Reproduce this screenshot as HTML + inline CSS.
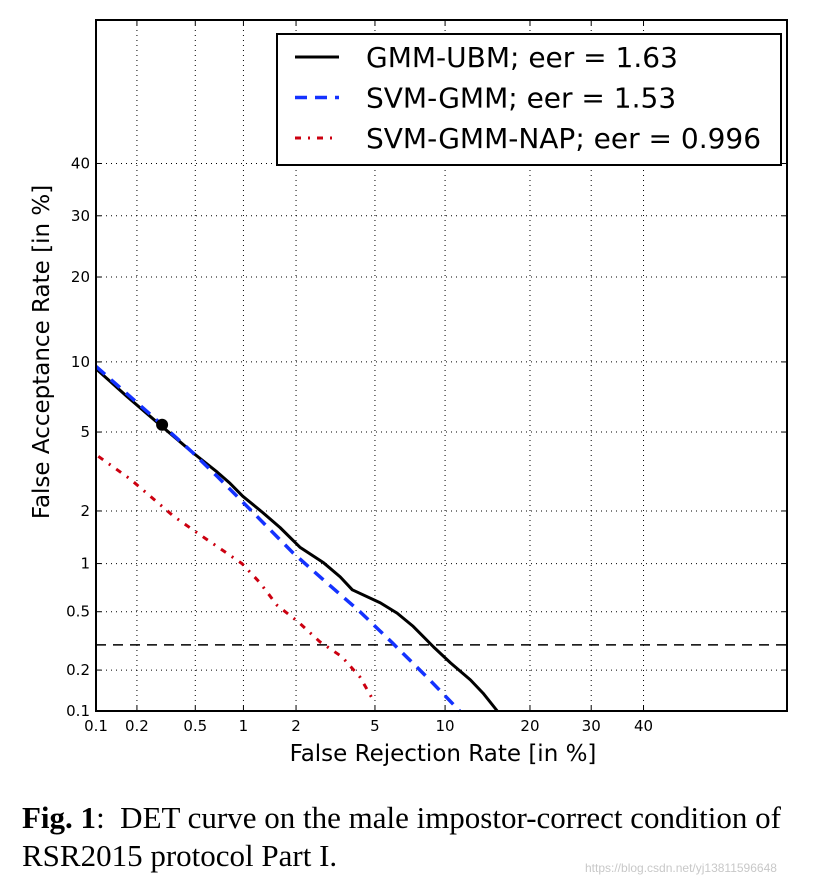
<!DOCTYPE html>
<html><head><meta charset="utf-8"><style>
body{margin:0;background:#fff;width:832px;height:888px;overflow:hidden;position:relative;font-family:"DejaVu Sans","Liberation Sans",sans-serif}
.cap{position:absolute;left:22px;font-family:"Liberation Serif",serif;font-size:31px;color:#000;white-space:nowrap}
</style></head><body>
<svg id="chart" width="832" height="790" style="position:absolute;left:0;top:0" xmlns="http://www.w3.org/2000/svg"></svg>
<div class="cap" style="top:800px"><b>Fig. 1</b>:&nbsp; DET curve on the male impostor-correct condition of</div>
<div class="cap" style="top:838px">RSR2015 protocol Part I.</div>
<div style="position:absolute;left:585px;top:861px;font-size:12px;color:#c8c8c8;font-family:'Liberation Sans',sans-serif">https://blog.csdn.net/yj13811596648</div>
<script>
const tickValues=[0.1,0.2,0.5,1,2,5,10,20,30,40];
const tickLabels=["0.1","0.2","0.5","1","2","5","10","20","30","40"];
const gmmFRR=[0.1,0.17,0.29,0.48,0.69,0.83,0.99,1.3,1.63,2.1,2.8,3.4,3.9,5.3,6.3,7.4,9.0,10.5,12.5,13.9,15.6];
const gmmFAR=[9.4,7.2,5.4,4.0,3.2,2.8,2.4,1.96,1.62,1.25,1.01,0.83,0.69,0.57,0.49,0.40,0.29,0.225,0.17,0.136,0.1];
const svmFRR=[0.1,0.29,0.48,0.69,1.05,1.92,2.9,4.25,6.0,8.45,11.4];
const svmFAR=[9.6,5.5,4.0,3.04,2.12,1.16,0.765,0.5,0.31,0.178,0.1];
const napFRR=[0.104,0.18,0.36,0.51,0.98,1.25,1.57,2.05,2.68,3.47,4.25,4.9];
const napFAR=[3.83,2.94,1.87,1.52,1.0,0.765,0.55,0.43,0.315,0.248,0.178,0.121];
const eerPoint=[0.3,5.4];
const thresholdFAR=0.3;
const legendLabels=["GMM-UBM; eer = 1.63","SVM-GMM; eer = 1.53","SVM-GMM-NAP; eer = 0.996"];

function probit(p){
 const a=[-39.6968302866538,220.946098424521,-275.928510446969,138.357751867269,-30.6647980661472,2.50662827745924];
 const b=[-54.4760987982241,161.585836858041,-155.698979859887,66.8013118877197,-13.2806815528857];
 const c=[-0.00778489400243029,-0.322396458041136,-2.40075827716184,-2.54973253934373,4.37466414146497,2.93816398269878];
 const d=[0.00778469570904146,0.32246712907004,2.445134137143,3.75440866190742];
 let q,r;
 if(p<0.02425){q=Math.sqrt(-2*Math.log(p));return (((((c[0]*q+c[1])*q+c[2])*q+c[3])*q+c[4])*q+c[5])/((((d[0]*q+d[1])*q+d[2])*q+d[3])*q+1);}
 if(p>1-0.02425){q=Math.sqrt(-2*Math.log(1-p));return -(((((c[0]*q+c[1])*q+c[2])*q+c[3])*q+c[4])*q+c[5])/((((d[0]*q+d[1])*q+d[2])*q+d[3])*q+1);}
 q=p-0.5;r=q*q;return (((((a[0]*r+a[1])*r+a[2])*r+a[3])*r+a[4])*r+a[5])*q/(((((b[0]*r+b[1])*r+b[2])*r+b[3])*r+b[4])*r+1);
}
const L=96,R=787,T=20,B=711;
const pmin=probit(0.001),pmax=pmin+(R-L)/193;
const X=v=>L+(probit(v/100)-pmin)/(pmax-pmin)*(R-L);
const Y=v=>B-(probit(v/100)-pmin)/(pmax-pmin)*(B-T);
const svg=document.getElementById('chart');
const NS='http://www.w3.org/2000/svg';
function mk(tag,attrs,parent){const e=document.createElementNS(NS,tag);for(const k in attrs)e.setAttribute(k,attrs[k]);(parent||svg).appendChild(e);return e;}

tickValues.forEach((v,i)=>{
 const x=X(v),y=Y(v);
 const gx=mk('line',{x1:x,x2:x,y1:T,y2:B,stroke:'#000','stroke-width':1,'stroke-dasharray':'1,4'});
 
 
 const gy=mk('line',{x1:L,x2:R,y1:y,y2:y,stroke:'#000','stroke-width':1,'stroke-dasharray':'1,4'});
 
 
 mk('line',{x1:x,x2:x,y1:B,y2:B-5,stroke:'#000','stroke-width':1});
 mk('line',{x1:x,x2:x,y1:T,y2:T+5,stroke:'#000','stroke-width':1});
 mk('line',{x1:L,x2:L+5,y1:y,y2:y,stroke:'#000','stroke-width':1});
 mk('line',{x1:R,x2:R-5,y1:y,y2:y,stroke:'#000','stroke-width':1});
 const tx=mk('text',{x:x,y:B+20,'font-size':15,'text-anchor':'middle',fill:'#000'});
 tx.textContent=tickLabels[i];
 
 
 const ty=mk('text',{x:L-6,y:y+5,'font-size':15,'text-anchor':'end',fill:'#000'});
 ty.textContent=tickLabels[i];
 
 
});

const th=mk('line',{x1:L,x2:R,y1:Y(thresholdFAR),y2:Y(thresholdFAR),stroke:'#000','stroke-width':1.5,'stroke-dasharray':'10,7'});



function series(fx,fy,attrs,name){
 const d=fx.map((v,i)=>(i?'L':'M')+X(v).toFixed(1)+','+Y(fy[i]).toFixed(1)).join(' ');
 const p=mk('path',Object.assign({d:d,fill:'none','stroke-linejoin':'round'},attrs));
 
 
}
series(napFRR,napFAR,{stroke:'#cc0010','stroke-width':3,'stroke-dasharray':'6,7,2,7'},'svm-gmm-nap-curve');
series(gmmFRR,gmmFAR,{stroke:'#000','stroke-width':3},'gmm-ubm-curve');
series(svmFRR,svmFAR,{stroke:'#1432ff','stroke-width':3.5,'stroke-dasharray':'12,8'},'svm-gmm-curve');
const dot=mk('circle',{cx:X(eerPoint[0]),cy:Y(eerPoint[1]),r:6,fill:'#000'});



const fr=mk('rect',{x:L,y:T,width:R-L,height:B-T,fill:'none',stroke:'#000','stroke-width':2});



const lg=mk('g',{});


mk('rect',{x:277,y:34,width:504,height:131,fill:'#fff',stroke:'#000','stroke-width':2},lg);
const styles=[{stroke:'#000','stroke-width':3},{stroke:'#1432ff','stroke-width':3.5,'stroke-dasharray':'12,8'},{stroke:'#cc0010','stroke-width':3,'stroke-dasharray':'6,7,2,7'}];
legendLabels.forEach((t,i)=>{
 const y=57+i*40.5;
 mk('line',Object.assign({x1:295,x2:339,y1:y,y2:y},styles[i]),lg);
 const tx=mk('text',{x:366,y:y+10,'font-size':28,fill:'#000'},lg);
 tx.textContent=t;
 
 
});

const xt=mk('text',{x:443,y:761,'font-size':23,'text-anchor':'middle',fill:'#000'});
xt.textContent='False Rejection Rate [in %]';


const yt=mk('text',{x:0,y:0,'font-size':23,'text-anchor':'middle',fill:'#000',transform:'translate(49,352) rotate(-90)'});
yt.textContent='False Acceptance Rate [in %]';


</script>
</body></html>
